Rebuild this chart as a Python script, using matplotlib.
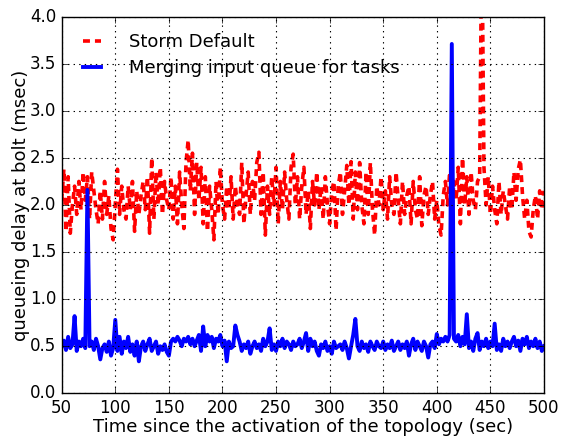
import numpy as np
import matplotlib
matplotlib.use("Agg")
import matplotlib.pyplot as plt

# sample times (sec), one sample every 2 s
t = np.arange(50, 501, 2)

# queueing delay (msec), Storm default
storm_default = [
    2.05, 2.38, 1.72, 2.30, 1.70, 2.00, 2.20, 1.90, 2.25, 1.95,   # 50-68
    2.35, 2.05, 2.30, 1.85, 2.35, 2.15, 1.95, 1.80, 2.15, 1.85,   # 70-88
    2.25, 1.90, 2.10, 1.75, 1.63, 2.00, 2.38, 1.90, 2.20, 1.95,   # 90-108
    1.85, 2.20, 1.95, 2.25, 1.72, 2.15, 1.90, 2.10, 2.25, 1.95,   # 110-128
    2.30, 1.70, 2.50, 1.85, 2.35, 2.00, 2.40, 1.90, 2.25, 2.05,   # 130-148
    1.95, 2.30, 1.85, 2.20, 1.80, 2.35, 2.00, 1.75, 2.45, 2.69,   # 150-168
    2.15, 2.55, 1.90, 2.45, 2.05, 2.40, 1.80, 2.30, 1.72, 2.20,   # 170-188
    1.95, 1.63, 2.25, 1.90, 2.40, 2.00, 1.85, 2.20, 1.95, 2.30,   # 190-208
    1.85, 2.20, 2.00, 1.90, 2.45, 1.80, 2.10, 2.35, 1.90, 2.25,   # 210-228
    2.05, 2.45, 2.56, 1.90, 2.35, 1.68, 2.20, 1.90, 2.30, 2.00,   # 230-248
    2.40, 1.80, 2.25, 1.95, 2.35, 2.05, 1.85, 2.40, 2.54, 2.00,   # 250-268
    2.30, 1.85, 2.20, 2.40, 1.90, 2.15, 1.75, 2.25, 2.00, 2.35,   # 270-288
    1.95, 2.20, 1.85, 2.30, 2.00, 1.80, 2.15, 2.25, 1.73, 2.20,   # 290-308
    2.35, 1.90, 2.15, 2.42, 2.00, 2.46, 1.85, 2.35, 1.95, 2.45,   # 310-328
    2.00, 1.80, 2.35, 1.90, 2.45, 1.95, 1.68, 2.20, 2.00, 2.30,   # 330-348
    1.95, 2.15, 1.85, 2.30, 2.00, 1.90, 2.35, 2.05, 1.80, 2.25,   # 350-368
    1.90, 2.10, 2.20, 1.80, 2.25, 1.95, 1.85, 2.30, 1.78, 2.10,   # 370-388
    2.20, 1.90, 2.10, 2.25, 1.85, 2.05, 1.78, 1.68, 2.10, 2.25,   # 390-408
    2.00, 2.35, 1.90, 2.25, 2.05, 2.40, 1.80, 2.50, 2.00, 2.30,   # 410-428
    1.90, 2.35, 2.05, 1.95, 2.25, 2.30, 5.00, 2.40, 2.00, 2.30,   # 430-448
    1.90, 2.20, 1.95, 1.80, 2.25, 1.90, 2.15, 2.00, 1.85, 2.20,   # 450-468
    1.95, 2.35, 2.05, 2.38, 2.48, 2.10, 1.85, 2.05, 1.72, 1.66,   # 470-488
    1.95, 2.10, 1.85, 2.15, 1.95, 2.15,                           # 490-500
]

# queueing delay (msec), merging input queue for tasks
merged_queue = [
    0.50, 0.56, 0.46, 0.60, 0.48, 0.52, 0.82, 0.45, 0.55, 0.50,   # 50-68
    0.58, 0.48, 2.16, 0.50, 0.55, 0.46, 0.58, 0.50, 0.36, 0.48,   # 70-88
    0.52, 0.44, 0.55, 0.40, 0.48, 0.78, 0.45, 0.60, 0.42, 0.55,   # 90-108
    0.48, 0.60, 0.44, 0.52, 0.40, 0.55, 0.34, 0.50, 0.55, 0.45,   # 110-128
    0.52, 0.58, 0.45, 0.50, 0.55, 0.42, 0.50, 0.46, 0.52, 0.44,   # 130-148
    0.40, 0.55, 0.58, 0.55, 0.60, 0.56, 0.50, 0.58, 0.55, 0.60,   # 150-168
    0.52, 0.58, 0.50, 0.56, 0.62, 0.45, 0.71, 0.50, 0.62, 0.55,   # 170-188
    0.60, 0.48, 0.58, 0.55, 0.62, 0.50, 0.56, 0.34, 0.55, 0.48,   # 190-208
    0.50, 0.72, 0.62, 0.55, 0.45, 0.52, 0.48, 0.55, 0.42, 0.50,   # 210-228
    0.55, 0.48, 0.52, 0.45, 0.58, 0.50, 0.55, 0.69, 0.46, 0.52,   # 230-248
    0.45, 0.55, 0.50, 0.58, 0.48, 0.55, 0.52, 0.46, 0.55, 0.50,   # 250-268
    0.52, 0.58, 0.48, 0.55, 0.64, 0.45, 0.58, 0.50, 0.55, 0.45,   # 270-288
    0.40, 0.52, 0.48, 0.55, 0.45, 0.50, 0.42, 0.55, 0.48, 0.50,   # 290-308
    0.52, 0.46, 0.55, 0.48, 0.37, 0.50, 0.62, 0.79, 0.50, 0.45,   # 310-328
    0.55, 0.48, 0.52, 0.44, 0.55, 0.50, 0.46, 0.55, 0.50, 0.48,   # 330-348
    0.55, 0.46, 0.52, 0.48, 0.56, 0.45, 0.50, 0.55, 0.46, 0.52,   # 350-368
    0.48, 0.55, 0.40, 0.52, 0.58, 0.46, 0.55, 0.50, 0.45, 0.55,   # 370-388
    0.50, 0.38, 0.52, 0.55, 0.48, 0.63, 0.52, 0.58, 0.55, 0.60,   # 390-408
    0.55, 0.62, 3.71, 0.58, 0.55, 0.62, 0.50, 0.60, 0.52, 0.84,   # 410-428
    0.48, 0.55, 0.45, 0.58, 0.64, 0.46, 0.55, 0.50, 0.58, 0.48,   # 430-448
    0.55, 0.50, 0.74, 0.46, 0.52, 0.45, 0.58, 0.50, 0.55, 0.48,   # 450-468
    0.55, 0.60, 0.50, 0.56, 0.45, 0.58, 0.52, 0.60, 0.48, 0.55,   # 470-488
    0.50, 0.58, 0.48, 0.55, 0.45, 0.50,                           # 490-500
]

xticks = list(range(50, 501, 50))
yticks = [0.0, 0.5, 1.0, 1.5, 2.0, 2.5, 3.0, 3.5, 4.0]

plt.style.use("classic")
plt.rcParams["font.family"] = "DejaVu Sans"
plt.rcParams["lines.scale_dashes"] = False

fig = plt.figure(figsize=(5.63, 4.38), dpi=100, facecolor="white")
ax = fig.add_axes([0.1096, 0.102, 0.8566, 0.860])

ax.plot(t, storm_default, color="red", linestyle="--", dashes=(5.0, 3.6),
        linewidth=2.6, label="Storm Default")
ax.plot(t, merged_queue, color="blue", linestyle="-", linewidth=2.8,
        label="Merging input queue for tasks")

ax.set_xlim(50, 500)
ax.set_ylim(0, 4)
ax.set_xticks(xticks)
ax.set_yticks(yticks)
ax.tick_params(labelsize=12)
ax.grid(True, color="black", linestyle=":", linewidth=0.8)

ax.set_xlabel("Time since the activation of the topology (sec)", fontsize=13,
              labelpad=1.0)
ax.set_ylabel("queueing delay at bolt (msec)", fontsize=13, labelpad=0)

ax.legend(loc="upper left", frameon=False, fontsize=13, handlelength=1.6,
          handletextpad=1.2, borderaxespad=0.5, labelspacing=0.45)

fig.savefig("out.png", dpi=100, facecolor="white")
